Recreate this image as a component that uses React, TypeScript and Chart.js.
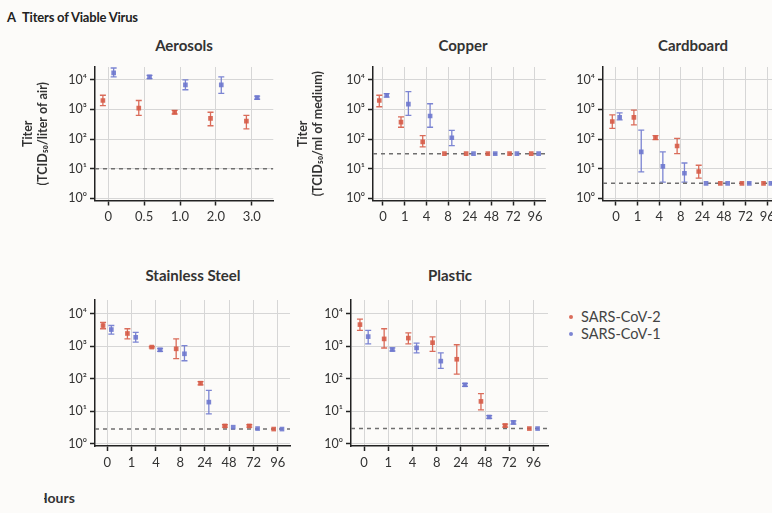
import React, { useEffect, useRef } from "react";
import { Chart, registerables } from "chart.js";

Chart.register(...registerables);

const FONT = "Lato, 'Open Sans', sans-serif";

// ---- categories / tick labels ----
const aerosolHours = ["0", "0.5", "1.0", "2.0", "3.0"];
const surfaceHours = ["0", "1", "4", "8", "24", "48", "72", "96"];
const yTickValues = [1, 10, 100, 1000, 10000];
const yTickLabels = ["10⁰", "10¹", "10²", "10³", "10⁴"];

// ---- Aerosols ----
const aerCov2 = [2000, 1100, 800, 500, 400];
const aerCov2Low = [1350, 630, 700, 280, 220];
const aerCov2High = [3000, 2000, 920, 800, 630];
const aerCov1 = [17000, 12600, 6700, 6700, 2500];
const aerCov1Low = [12600, 11000, 4600, 3500, 2200];
const aerCov1High = [25000, 14000, 10000, 12600, 2800];
const aerLimit = 10;

// ---- Copper ----
const cuCov2 = [2000, 370, 80, 32, 32, 32, 32, 32];
const cuCov2Low = [1230, 250, 54, 32, 32, 32, 32, 32];
const cuCov2High = [3000, 560, 130, 32, 32, 32, 32, 32];
const cuCov1 = [3000, 1500, 600, 110, 32, 32, 32, 32];
const cuCov1Low = [2600, 630, 250, 60, 32, 32, 32, 32];
const cuCov1High = [3400, 4000, 1550, 195, 32, 32, 32, 32];
const cuLimit = 32;

// ---- Cardboard ----
const cbCov2 = [390, 540, 110, 58, 8, 3.2, 3.2, 3.2];
const cbCov2Low = [230, 300, 95, 32, 4.8, 3.2, 3.2, 3.2];
const cbCov2High = [650, 950, 130, 105, 13, 3.2, 3.2, 3.2];
const cbCov1 = [540, 37, 12, 7, 3.2, 3.2, 3.2, 3.2];
const cbCov1Low = [440, 7.8, 3.5, 3.5, 3.2, 3.2, 3.2, 3.2];
const cbCov1High = [760, 200, 37, 15.5, 3.2, 3.2, 3.2, 3.2];
const cbLimit = 3.2;

// ---- Stainless Steel ----
const ssCov2 = [4400, 2500, 950, 840, 73, 3.5, 3.5, 2.8];
const ssCov2Low = [3500, 1700, 900, 420, 65, 3.2, 3.2, 2.8];
const ssCov2High = [5500, 3500, 1000, 1700, 82, 3.8, 3.8, 2.8];
const ssCov1 = [3300, 1900, 780, 590, 19, 3.2, 2.9, 2.8];
const ssCov1Low = [2400, 1350, 700, 360, 8.3, 3.2, 2.9, 2.8];
const ssCov1High = [4400, 2700, 860, 1050, 44, 3.2, 2.9, 2.8];
const ssLimit = 2.8;

// ---- Plastic ----
const plCov2 = [4700, 1700, 1800, 1300, 400, 20, 3.6, 2.9];
const plCov2Low = [3100, 890, 1200, 700, 140, 11, 3.2, 2.9];
const plCov2High = [6900, 3500, 2600, 1950, 1120, 35, 4, 2.9];
const plCov1 = [2000, 800, 900, 350, 65, 6.6, 4.5, 2.9];
const plCov1Low = [1200, 720, 630, 210, 58, 6, 4, 2.9];
const plCov1High = [3100, 900, 1260, 630, 72, 7.3, 5, 2.9];
const plLimit = 2.9;

const RED = "rgba(214,92,72,0.9)";
const BLUE = "rgba(110,120,206,0.9)";
const GRID = "#d6d6d6";
const AXIS = "#222";
const TEXT = "#333";

type PanelCfg = {
  key: string;
  left: number;
  top: number;
  width: number;
  height: number;
  yWidth: number;
  xHeight: number;
  padTop: number;
  padRight: number;
  xMin: number;
  xMax: number;
  jitter: number;
  labels: string[];
  cov2: number[];
  cov2Low: number[];
  cov2High: number[];
  cov1: number[];
  cov1Low: number[];
  cov1High: number[];
  limit: number;
  yTitle?: string[];
  titlePad?: number;
};

const panels: PanelCfg[] = [
  {
    key: "aer", left: 12, top: 53, width: 270, height: 182, yWidth: 83, xHeight: 34.5,
    padTop: 14, padRight: 8.7, xMin: -0.37, xMax: 4.6, jitter: 0.15, labels: aerosolHours,
    cov2: aerCov2, cov2Low: aerCov2Low, cov2High: aerCov2High,
    cov1: aerCov1, cov1Low: aerCov1Low, cov1High: aerCov1High, limit: aerLimit,
    yTitle: ["Titer", "(TCID₅₀/liter of air)"], titlePad: 8.5,
  },
  {
    key: "cu", left: 288, top: 53, width: 265, height: 182, yWidth: 85, xHeight: 34.5,
    padTop: 14, padRight: 7.2, xMin: -0.46, xMax: 7.5, jitter: 0.17, labels: surfaceHours,
    cov2: cuCov2, cov2Low: cuCov2Low, cov2High: cuCov2High,
    cov1: cuCov1, cov1Low: cuCov1Low, cov1High: cuCov1High, limit: cuLimit,
    yTitle: ["Titer", "(TCID₅₀/ml of medium)"], titlePad: 7.5,
  },
  {
    key: "cb", left: 560, top: 53, width: 225, height: 182, yWidth: 43, xHeight: 34.5,
    padTop: 14, padRight: 7, xMin: -0.6, xMax: 7.5, jitter: 0.17, labels: surfaceHours,
    cov2: cbCov2, cov2Low: cbCov2Low, cov2High: cbCov2High,
    cov1: cbCov1, cov1Low: cbCov1Low, cov1High: cbCov1High, limit: cbLimit,
  },
  {
    key: "ss", left: 50, top: 286, width: 248, height: 195, yWidth: 45, xHeight: 35,
    padTop: 14, padRight: 8, xMin: -0.5, xMax: 7.5, jitter: 0.17, labels: surfaceHours,
    cov2: ssCov2, cov2Low: ssCov2Low, cov2High: ssCov2High,
    cov1: ssCov1, cov1Low: ssCov1Low, cov1High: ssCov1High, limit: ssLimit,
  },
  {
    key: "pl", left: 305, top: 286, width: 251, height: 195, yWidth: 46, xHeight: 35,
    padTop: 14, padRight: 8, xMin: -0.54, xMax: 7.6, jitter: 0.17, labels: surfaceHours,
    cov2: plCov2, cov2Low: plCov2Low, cov2High: plCov2High,
    cov1: plCov1, cov1Low: plCov1Low, cov1High: plCov1High, limit: plLimit,
  },
];

const panelTitles = [
  { text: "Aerosols", cx: 184, cy: 45 },
  { text: "Copper", cx: 463, cy: 45 },
  { text: "Cardboard", cx: 693, cy: 45 },
  { text: "Stainless Steel", cx: 193, cy: 275 },
  { text: "Plastic", cx: 450, cy: 275 },
];

const errorBarPlugin = {
  id: "errorBars",
  beforeDatasetsDraw(chart: any) {
    const { ctx } = chart;
    const y = chart.scales.y;
    chart.data.datasets.forEach((ds: any, di: number) => {
      if (!ds.errLow) return;
      const meta = chart.getDatasetMeta(di);
      ctx.save();
      ctx.strokeStyle = ds.borderColor;
      ctx.lineWidth = 1.3;
      meta.data.forEach((pt: any, i: number) => {
        const lo = ds.errLow[i];
        const hi = ds.errHigh[i];
        if (lo == null || hi == null || lo === hi) return;
        const yl = y.getPixelForValue(lo);
        const yh = y.getPixelForValue(hi);
        const x = pt.x;
        ctx.beginPath();
        ctx.moveTo(x, yl);
        ctx.lineTo(x, yh);
        ctx.moveTo(x - 3, yl);
        ctx.lineTo(x + 3, yl);
        ctx.moveTo(x - 3, yh);
        ctx.lineTo(x + 3, yh);
        ctx.stroke();
      });
      ctx.restore();
    });
  },
};

function makeConfig(p: PanelCfg): any {
  const tickFont = { family: FONT, size: 13 };
  return {
    type: "scatter",
    data: {
      datasets: [
        {
          type: "scatter",
          label: "SARS-CoV-2",
          data: p.cov2.map((v, i) => ({ x: i - p.jitter, y: v })),
          backgroundColor: RED,
          borderColor: RED,
          pointStyle: "rect",
          pointRadius: 3.3,
          pointBorderWidth: 0,
          errLow: p.cov2Low,
          errHigh: p.cov2High,
          order: 1,
        },
        {
          type: "scatter",
          label: "SARS-CoV-1",
          data: p.cov1.map((v, i) => ({ x: i + p.jitter, y: v })),
          backgroundColor: BLUE,
          borderColor: BLUE,
          pointStyle: "rect",
          pointRadius: 3.3,
          pointBorderWidth: 0,
          errLow: p.cov1Low,
          errHigh: p.cov1High,
          order: 0,
        },
        {
          type: "line",
          label: "limit",
          data: [
            { x: p.xMin, y: p.limit },
            { x: p.xMax, y: p.limit },
          ],
          borderColor: "#6f6f6f",
          borderWidth: 1.5,
          borderDash: [4, 4],
          pointRadius: 0,
          order: 5,
        },
      ],
    },
    options: {
      animation: false,
      responsive: false,
      events: [],
      layout: { padding: { top: p.padTop, right: p.padRight, left: 0, bottom: 0 } },
      plugins: {
        legend: { display: false },
        tooltip: { enabled: false },
        title: { display: false },
      },
      scales: {
        x: {
          type: "linear",
          min: p.xMin,
          max: p.xMax,
          afterFit: (s: any) => {
            s.height = p.xHeight;
          },
          afterBuildTicks: (s: any) => {
            s.ticks = p.labels.map((_, i) => ({ value: i }));
          },
          ticks: {
            callback: (v: any) => p.labels[v] ?? "",
            font: tickFont,
            color: TEXT,
            padding: 4,
            autoSkip: false,
            maxRotation: 0,
          },
          grid: { color: GRID, lineWidth: 1, tickColor: AXIS, tickLength: 5, tickWidth: 1.5 },
          border: { color: AXIS, width: 1.5 },
        },
        y: {
          type: "logarithmic",
          min: 0.84,
          max: 27000,
          afterFit: (s: any) => {
            s.width = p.yWidth;
          },
          afterBuildTicks: (s: any) => {
            s.ticks = yTickValues.map((v) => ({ value: v }));
          },
          ticks: {
            callback: (v: any) => {
              const i = yTickValues.indexOf(Number(v));
              return i >= 0 ? yTickLabels[i] : "";
            },
            font: { family: FONT, size: 12.5 },
            color: TEXT,
            padding: 3,
            autoSkip: false,
          },
          title: p.yTitle
            ? {
                display: true,
                text: p.yTitle,
                font: { family: FONT, size: 12.5, weight: "bold", lineHeight: 1.2 },
                color: TEXT,
                padding: { top: p.titlePad ?? 4, bottom: 0 },
              }
            : { display: false },
          grid: { color: GRID, lineWidth: 1, tickColor: AXIS, tickLength: 5, tickWidth: 1.5 },
          border: { color: AXIS, width: 1.5 },
        },
      },
    },
    plugins: [errorBarPlugin],
  };
}

function Panel({ cfg }: { cfg: PanelCfg }) {
  const ref = useRef<HTMLCanvasElement | null>(null);
  useEffect(() => {
    if (!ref.current) return;
    const chart = new Chart(ref.current, makeConfig(cfg));
    return () => chart.destroy();
  }, [cfg]);
  return (
    <canvas
      ref={ref}
      width={cfg.width}
      height={cfg.height}
      style={{
        position: "absolute",
        left: cfg.left,
        top: cfg.top,
        width: cfg.width,
        height: cfg.height,
      }}
    />
  );
}

export default function App() {
  return (
    <div
      style={{
        position: "fixed",
        left: 0,
        top: 0,
        width: 772,
        height: 513,
        overflow: "hidden",
        background: "#fcfbf9",
        fontFamily: FONT,
        color: TEXT,
      }}
    >
      <div
        style={{
          position: "absolute",
          left: 7,
          top: 8,
          fontSize: 13,
          fontWeight: 700,
          whiteSpace: "nowrap",
          lineHeight: "18px",
          color: "#222",
        }}
      >
        <span style={{ marginRight: 6 }}>A</span>
        <span style={{ letterSpacing: -0.2 }}>Titers of Viable Virus</span>
      </div>

      {panelTitles.map((t) => (
        <div
          key={t.text}
          style={{
            position: "absolute",
            left: t.cx - 80,
            width: 160,
            top: t.cy - 10,
            lineHeight: "20px",
            textAlign: "center",
            fontSize: 15,
            fontWeight: 700,
            color: "#333",
            whiteSpace: "nowrap",
          }}
        >
          {t.text}
        </div>
      ))}

      {panels.map((p) => (
        <Panel key={p.key} cfg={p} />
      ))}

      <div style={{ position: "absolute", left: 569, top: 308, fontSize: 14.5, color: "#444", lineHeight: "17px" }}>
        <div style={{ display: "flex", alignItems: "center" }}>
          <span style={{ width: 4, height: 4, borderRadius: 2, background: RED, marginRight: 8 }} />
          SARS-CoV-2
        </div>
        <div style={{ display: "flex", alignItems: "center" }}>
          <span style={{ width: 4, height: 4, borderRadius: 2, background: BLUE, marginRight: 8 }} />
          SARS-CoV-1
        </div>
      </div>

      <div
        style={{
          position: "absolute",
          left: 44,
          top: 489,
          width: 60,
          height: 18,
          overflow: "hidden",
        }}
      >
        <div
          style={{
            position: "absolute",
            left: -7,
            top: 0,
            fontSize: 14,
            fontWeight: 700,
            lineHeight: "18px",
            color: "#333",
            whiteSpace: "nowrap",
          }}
        >
          Hours
        </div>
      </div>
    </div>
  );
}
